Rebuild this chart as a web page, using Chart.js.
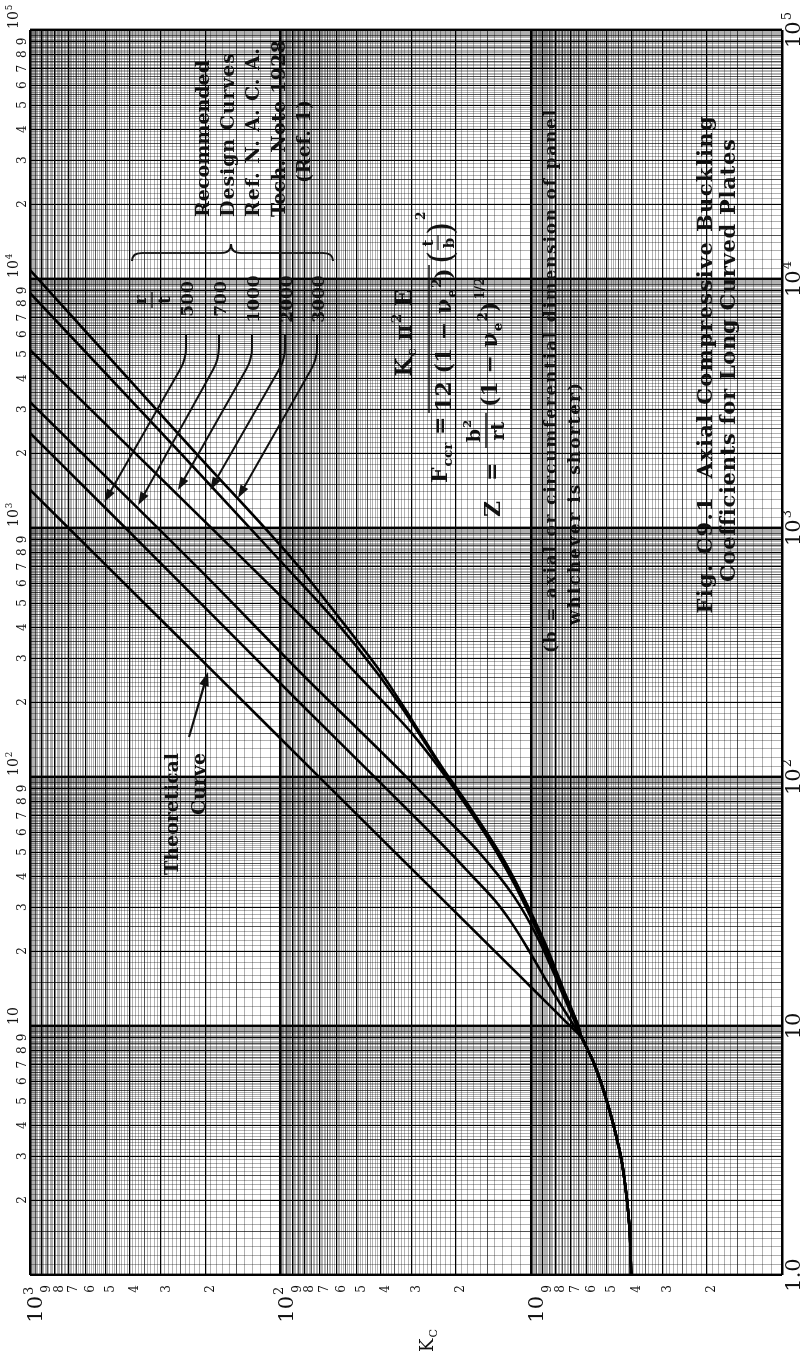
<!DOCTYPE html>
<html>
<head>
<meta charset="utf-8">
<title>Fig. C9.1 Axial Compressive Buckling Coefficients for Long Curved Plates</title>
<script src="https://cdn.jsdelivr.net/npm/chart.js@4.4.1/dist/chart.umd.min.js"></script>
<style>
html, body { margin:0; padding:0; background:#fff; width:810px; height:1353px; overflow:hidden; }
#frame { position:absolute; left:0; top:0; width:1353px; height:810px; transform-origin:0 0; transform:translate(0px,1353px) rotate(-90deg); background:#fff; }
canvas { display:block; }
</style>
</head>
<body>
<div id="frame"><canvas id="chart" width="1353" height="810"></canvas></div>
<script>
// ---------------- data ----------------
// Z axis (horizontal in the original orientation)
const zDecadeValues = [1, 10, 100, 1000, 10000, 100000];
const zDecadeBase   = ['1.0', '10', '10', '10', '10', '10'];
const zDecadeExp    = ['', '', '2', '3', '4', '5'];
// Kc axis
const kcDecadeValues = [1000, 100, 10];
const kcDecadeBase   = ['10', '10', '10'];
const kcDecadeExp    = ['3', '2', ''];
const minorDigits    = [2, 3, 4, 5, 6, 7, 8, 9];

// common lower branch shared by every curve
const zShared  = [1, 1.5, 2, 3, 4, 5, 6, 7, 8, 9];
const kcShared = [4.0, 4.05, 4.15, 4.4, 4.7, 5.0, 5.3, 5.6, 5.95, 6.3];

// theoretical curve
const zTheory  = [10, 14, 20, 50, 100, 264, 500, 1000, 1424];
const kcTheory = [7.0, 9.8, 14.0, 35.1, 70.2, 185, 351, 702, 1000];

// recommended design curves, r/t = 500 ... 3000
const zRt500   = [10, 14, 20, 26, 32, 40, 50, 100, 200, 500, 1000, 2408];
const kcRt500  = [6.75, 8.3, 10.2, 12.0, 14.0, 17.2, 21.2, 42.2, 84.5, 209, 416, 1000];

const zRt700   = [10, 14.3, 22, 33, 50, 70, 100, 264, 678, 3206];
const kcRt700  = [6.6, 7.7, 9.3, 11.7, 16.2, 22.4, 31.5, 83.7, 209.7, 1000];

const zRt1000  = [10, 14.3, 22, 33, 50, 75, 110, 150, 200, 300, 427, 743, 5188];
const kcRt1000 = [6.55, 7.6, 9.1, 11.0, 13.8, 17.9, 23.5, 30, 39, 57, 80, 140, 1000];

const zRt2000  = [10, 14.3, 22, 33, 50, 75, 110, 170, 260, 427, 743, 2000, 8785];
const kcRt2000 = [6.5, 7.55, 9.0, 10.85, 13.6, 17.7, 23.0, 30.5, 41, 61, 101, 251, 1000];

const zRt3000  = [10, 14.3, 22, 33, 50, 75, 110, 170, 260, 427, 743, 2000, 10864];
const kcRt3000 = [6.5, 7.5, 8.9, 10.75, 13.45, 17.5, 22.8, 30, 39.5, 57.5, 89, 218, 1000];

// r/t call-outs and the points on the curves their arrows touch
const rtLabels  = ['500', '700', '1000', '2000', '3000'];
const rtTipZ    = [1271, 1237, 1421, 1421, 1319];
const rtTipKc   = [505, 370, 257, 191, 148];
const theoryTipZ  = [264];
const theoryTipKc = [195];

// ---------------- helpers ----------------
const SERIF = '"DejaVu Serif", "Liberation Serif", serif';

function pts(zs, ks) { return zs.map((z, i) => ({ x: z, y: ks[i] })); }

function makeLogTicks(minExp, maxExp) {
  const out = [];
  for (let e = minExp; e < maxExp; e++) {
    const b = Math.pow(10, e);
    for (let m = 10; m < 100; m++) out.push({ value: m * b / 10, m: m });
  }
  out.push({ value: Math.pow(10, maxExp), m: 10 });
  return out;
}
function gridWidth(t) {
  if (!t) return 1;
  const m = t.m;
  if (m === 10) return 2.4;
  if (m % 10 === 0) return 1.15;
  if (m % 5 === 0) return 0.8;
  return 0.5;
}
function gridColor(t) {
  if (!t) return '#000';
  if (t.m % 10 === 0) return '#000';
  if (t.m % 5 === 0) return 'rgba(0,0,0,0.85)';
  return 'rgba(0,0,0,0.62)';
}

function fnt(size, bold) { return (bold ? 'bold ' : '') + size + 'px ' + SERIF; }

// runs: [text, kind] kind = 'n' | 'sub' | 'sup'
function runsWidth(ctx, runs, size, bold) {
  let w = 0;
  runs.forEach(r => {
    const s = r[1] === 'n' ? size : size * 0.62;
    ctx.font = fnt(s, bold);
    w += ctx.measureText(r[0]).width + (r[1] === 'n' ? 0 : 1);
  });
  return w;
}
function drawRuns(ctx, runs, x, y, size, bold, align) {
  const w = runsWidth(ctx, runs, size, bold);
  let cx = align === 'center' ? x - w / 2 : (align === 'right' ? x - w : x);
  ctx.textAlign = 'left';
  ctx.textBaseline = 'alphabetic';
  runs.forEach(r => {
    const kind = r[1];
    const s = kind === 'n' ? size : size * 0.62;
    ctx.font = fnt(s, bold);
    let dy = 0;
    if (kind === 'sup') dy = -size * 0.45;
    if (kind === 'sub') dy = size * 0.22;
    ctx.fillText(r[0], cx + (kind === 'n' ? 0 : 1), y + dy);
    cx += ctx.measureText(r[0]).width + (kind === 'n' ? 0 : 1);
  });
  return w;
}
function txt(ctx, s, x, y, size, bold, align) {
  ctx.font = fnt(size, bold);
  ctx.textAlign = align || 'left';
  ctx.textBaseline = 'alphabetic';
  ctx.fillText(s, x, y);
}
// text stretched (by letter spacing, or horizontal scaling as fallback) to a given width
function fitTxt(ctx, s, x, y, size, bold, width, align) {
  ctx.font = fnt(size, bold);
  ctx.textBaseline = 'alphabetic';
  const nat = ctx.measureText(s).width;
  let x0 = align === 'center' ? x - width / 2 : (align === 'right' ? x - width : x);
  if ('letterSpacing' in ctx) {
    const ls = (width - nat) / Math.max(1, s.length - 1);
    ctx.letterSpacing = ls.toFixed(2) + 'px';
    ctx.textAlign = 'left';
    ctx.fillText(s, x0, y);
    ctx.letterSpacing = '0px';
  } else {
    ctx.save();
    ctx.translate(x0, y);
    ctx.scale(width / nat, 1);
    ctx.textAlign = 'left';
    ctx.fillText(s, 0, 0);
    ctx.restore();
  }
}
function arrowHead(ctx, fx, fy, tx, ty, len, half) {
  const dx = tx - fx, dy = ty - fy, d = Math.hypot(dx, dy), ux = dx / d, uy = dy / d;
  ctx.beginPath();
  ctx.moveTo(tx, ty);
  ctx.lineTo(tx - ux * len - uy * half, ty - uy * len + ux * half);
  ctx.lineTo(tx - ux * len + uy * half, ty - uy * len - ux * half);
  ctx.closePath();
  ctx.fill();
}

// ---------------- text / annotation plugin ----------------
const annotationPlugin = {
  id: 'annotations',
  afterDraw(chart) {
    const ctx = chart.ctx;
    const xs = chart.scales.x, ys = chart.scales.y;
    const px = v => xs.getPixelForValue(v);
    const py = v => ys.getPixelForValue(v);
    ctx.save();
    ctx.fillStyle = '#111';
    ctx.strokeStyle = '#111';

    // bottom axis: Z decades
    zDecadeValues.forEach((z, i) => {
      const runs = [[zDecadeBase[i], 'n']];
      if (zDecadeExp[i]) runs.push([zDecadeExp[i], 'sup']);
      drawRuns(ctx, runs, px(z), 800, 21, false, 'center');
    });
    // top axis: Z decades (left-aligned at the line) and minor digits
    zDecadeValues.forEach((z, i) => {
      if (i === 0) return;
      const runs = [[zDecadeBase[i], 'n']];
      if (zDecadeExp[i]) runs.push([zDecadeExp[i], 'sup']);
      drawRuns(ctx, runs, px(z) + 1, 18, 14, false, 'left');
    });
    for (let e = 0; e < 5; e++) {
      minorDigits.forEach(d => txt(ctx, String(d), px(d * Math.pow(10, e)), 26, 12, false, 'center'));
    }
    // left axis: Kc decades and minor digits
    kcDecadeValues.forEach((k, i) => {
      ctx.font = fnt(21, false);
      const wb = ctx.measureText(kcDecadeBase[i]).width;
      const runs = [[kcDecadeBase[i], 'n']];
      if (kcDecadeExp[i]) runs.push([kcDecadeExp[i], 'sup']);
      drawRuns(ctx, runs, 57 - wb, py(k) + 12, 21, false, 'left');
    });
    for (let e = 0; e < 3; e++) {
      minorDigits.forEach(d => txt(ctx, String(d), 64, py(d * Math.pow(10, e)) + 8.5, 12, false, 'center'));
    }
    // axis title Kc
    drawRuns(ctx, [['K', 'n'], ['C', 'sub']], 1, 433, 18, false, 'left');

    // ---- Recommended design curves block ----
    const bs = 19;
    fitTxt(ctx, 'Recommended', 1136, 209, bs, true, 157);
    fitTxt(ctx, 'Design Curves', 1136, 234, bs, true, 164);
    fitTxt(ctx, 'Ref. N. A. C. A.', 1136, 259, bs, true, 169);
    fitTxt(ctx, 'Tech. Note 1928', 1136, 285, bs, true, 177);
    fitTxt(ctx, '(Ref. 1)', 1170, 310, bs, true, 83);

    // brace
    ctx.lineWidth = 1.8;
    ctx.beginPath();
    ctx.moveTo(1092, 132);
    ctx.quadraticCurveTo(1100, 132, 1100, 142);
    ctx.lineTo(1100, 221);
    ctx.quadraticCurveTo(1100, 231, 1109, 231);
    ctx.quadraticCurveTo(1100, 231, 1100, 241);
    ctx.lineTo(1100, 323);
    ctx.quadraticCurveTo(1100, 333, 1092, 333);
    ctx.stroke();

    // r / t
    txt(ctx, 'r', 1053, 146, 17, true, 'center');
    ctx.lineWidth = 1.4;
    ctx.beginPath(); ctx.moveTo(1045, 152); ctx.lineTo(1061, 152); ctx.stroke();
    txt(ctx, 't', 1053, 170, 17, true, 'center');

    // r/t values with leader arrows
    const rowV = [186, 219, 252, 285, 317];
    rtLabels.forEach((lab, i) => {
      const v0 = rowV[i];
      txt(ctx, lab, 1054, v0 + 6.5, 17, true, 'center');
      const tx = px(rtTipZ[i]), ty = py(rtTipKc[i]);
      const cu = 994, r = 12;
      const dx = tx - cu, dy = ty - v0, d = Math.hypot(dx, dy);
      const bx = cu + dx / d * r, by = v0 + dy / d * r;
      const hx = tx - dx / d * 11, hy = ty - dy / d * 11;
      ctx.lineWidth = 2;
      ctx.beginPath();
      ctx.moveTo(1019, v0);
      ctx.lineTo(cu + r, v0);
      ctx.quadraticCurveTo(cu, v0, bx, by);
      ctx.lineTo(hx, hy);
      ctx.stroke();
      arrowHead(ctx, bx, by, tx, ty, 13, 4.5);
    });

    // Theoretical curve label + arrow
    txt(ctx, 'Theoretical', 600, 178, 19, true, 'right');
    txt(ctx, 'Curve', 600, 205, 19, true, 'right');
    {
      const fx = 616, fy = 189, tx = px(theoryTipZ[0]), ty = py(theoryTipKc[0]);
      const d = Math.hypot(tx - fx, ty - fy);
      ctx.lineWidth = 2.2;
      ctx.beginPath(); ctx.moveTo(fx, fy);
      ctx.lineTo(tx - (tx - fx) / d * 11, ty - (ty - fy) / d * 11); ctx.stroke();
      arrowHead(ctx, fx, fy, tx, ty, 14, 5);
    }

    // ---- formula for Fccr ----
    const fs = 22;
    drawRuns(ctx, [['F', 'n'], ['ccr', 'sub'], [' =', 'n']], 870, 447, fs, true, 'left');
    drawRuns(ctx, [['K', 'n'], ['c', 'sub'], [' \u03C0', 'n'], ['2', 'sup'], [' E', 'n']], 1020, 411, fs, true, 'center');
    ctx.lineWidth = 1.6;
    ctx.beginPath(); ctx.moveTo(940, 429); ctx.lineTo(1088, 429); ctx.stroke();
    drawRuns(ctx, [['12 (1 \u2212 \u03BD', 'n'], ['e', 'sub'], ['2', 'sup'], [')', 'n']], 1013, 451, fs, true, 'center');
    txt(ctx, '(', 1089, 452, 34, false, 'left');
    txt(ctx, 't', 1110, 433, 15, true, 'center');
    ctx.lineWidth = 1.2;
    ctx.beginPath(); ctx.moveTo(1103, 438); ctx.lineTo(1118, 438); ctx.stroke();
    txt(ctx, 'b', 1110, 454, 15, true, 'center');
    txt(ctx, ')', 1118, 452, 34, false, 'left');
    txt(ctx, '2', 1133, 425, 12, true, 'left');

    // ---- formula for Z ----
    txt(ctx, 'Z', 836, 500, fs, true, 'left');
    txt(ctx, '=', 872, 499, fs, true, 'left');
    drawRuns(ctx, [['b', 'n'], ['2', 'sup']], 922, 480, 19, true, 'center');
    ctx.lineWidth = 1.5;
    ctx.beginPath(); ctx.moveTo(905, 486); ctx.lineTo(940, 486); ctx.stroke();
    txt(ctx, 'rt', 922, 504, 19, true, 'center');
    const zw = drawRuns(ctx, [['(1 \u2212 \u03BD', 'n'], ['e', 'sub'], ['2', 'sup'], [')', 'n']], 946, 497, fs, true, 'left');
    txt(ctx, '1/2', 946 + zw + 2, 484, 13, true, 'left');

    // ---- note ----
    fitTxt(ctx, '(b = axial or circumferential dimension of panel', 700, 556, 17, true, 543, 'left');
    fitTxt(ctx, 'whichever is shorter)', 728, 580, 17, true, 242, 'left');

    // ---- caption ----
    fitTxt(ctx, 'Fig. C9.1  Axial Compressive Buckling', 988, 712, 21, true, 497, 'center');
    fitTxt(ctx, 'Coefficients for Long Curved Plates', 992, 735, 21, true, 442, 'center');

    ctx.restore();
  }
};

// ---------------- chart ----------------
const curveDefs = [
  { label: 'Theoretical', z: zTheory, k: kcTheory },
  { label: 'r/t = 500', z: zRt500, k: kcRt500 },
  { label: 'r/t = 700', z: zRt700, k: kcRt700 },
  { label: 'r/t = 1000', z: zRt1000, k: kcRt1000 },
  { label: 'r/t = 2000', z: zRt2000, k: kcRt2000 },
  { label: 'r/t = 3000', z: zRt3000, k: kcRt3000 }
];

const datasets = curveDefs.map(c => ({
  label: c.label,
  data: pts(zShared.concat(c.z), kcShared.concat(c.k)),
  borderColor: '#000',
  borderWidth: 2.6,
  pointRadius: 0,
  fill: false,
  cubicInterpolationMode: 'monotone'
}));

new Chart(document.getElementById('chart'), {
  type: 'line',
  data: { datasets: datasets },
  options: {
    responsive: false,
    animation: false,
    events: [],
    layout: { padding: { left: 78, right: 30, top: 30, bottom: 28 } },
    plugins: { legend: { display: false }, tooltip: { enabled: false } },
    scales: {
      x: {
        type: 'logarithmic', position: 'bottom', min: 1, max: 100000,
        afterBuildTicks: s => { s.ticks = makeLogTicks(0, 5); },
        ticks: { display: false },
        border: { display: false },
        grid: { drawTicks: false, color: c => gridColor(c.tick), lineWidth: c => gridWidth(c.tick) }
      },
      y: {
        type: 'logarithmic', position: 'left', min: 1, max: 1000,
        afterBuildTicks: s => { s.ticks = makeLogTicks(0, 3); },
        ticks: { display: false },
        border: { display: false },
        grid: { drawTicks: false, color: c => gridColor(c.tick), lineWidth: c => gridWidth(c.tick) }
      }
    }
  },
  plugins: [annotationPlugin]
});
</script>
</body>
</html>
